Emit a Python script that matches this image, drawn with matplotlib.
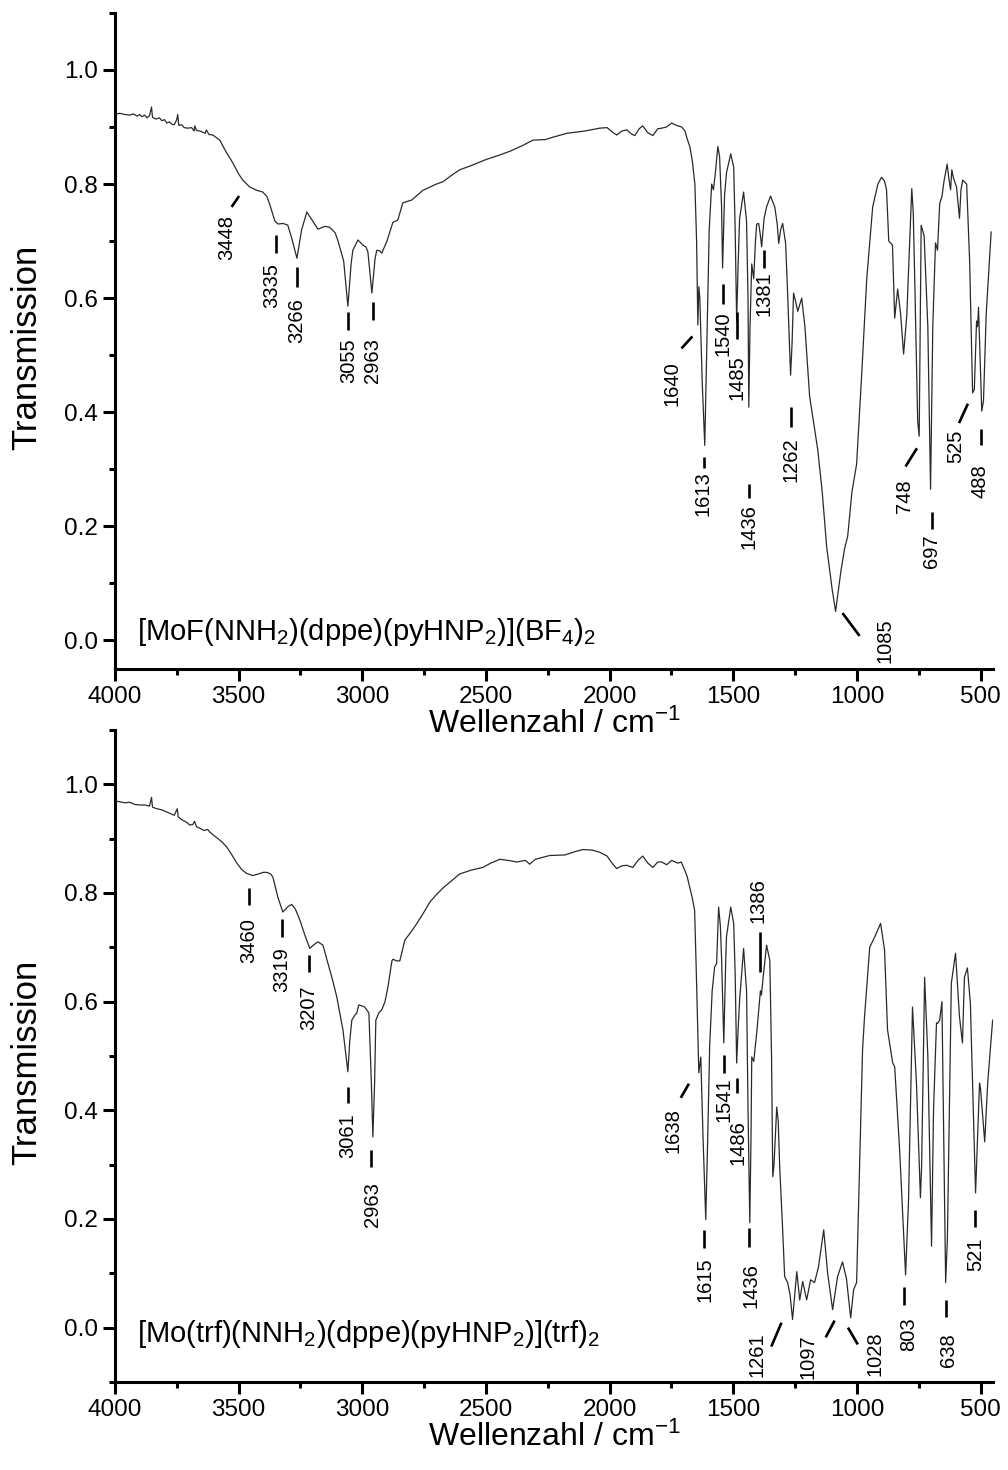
import matplotlib
matplotlib.use("Agg")
import matplotlib.pyplot as plt
from matplotlib.ticker import MultipleLocator

plt.rcParams['font.family'] = ['Liberation Sans', 'DejaVu Sans']
plt.rcParams['mathtext.fontset'] = 'custom'
plt.rcParams['mathtext.rm'] = 'Liberation Sans'
plt.rcParams['mathtext.it'] = 'Liberation Sans:italic'
plt.rcParams['mathtext.bf'] = 'Liberation Sans:bold'

# === Data: top spectrum [MoF(NNH2)(dppe)(pyHNP2)](BF4)2 ===
wn_top = [3998, 3980, 3960, 3940, 3925, 3910, 3900, 3890, 3880, 3870, 3860, 3852, 3848,
          3835, 3820, 3810, 3800, 3790, 3780, 3770, 3760, 3750, 3746, 3742, 3730, 3720,
          3705, 3690, 3680, 3677, 3670, 3656, 3645, 3635, 3630, 3620, 3604, 3576, 3550,
          3523, 3500, 3483, 3455, 3426, 3402, 3385, 3373, 3353, 3340, 3320, 3301, 3285,
          3264, 3245, 3224, 3200, 3179, 3150, 3131, 3110, 3099, 3075, 3058, 3045, 3038,
          3025, 3018, 3008, 2998, 2985, 2977, 2961, 2948, 2941, 2930, 2921, 2900, 2876,
          2856, 2836, 2800, 2755, 2700, 2674, 2640, 2606, 2550, 2500, 2444, 2400, 2350,
          2310, 2260, 2230, 2173, 2100, 2040, 2010, 1985, 1971, 1950, 1930, 1912, 1898,
          1880, 1866, 1845, 1825, 1805, 1789, 1770, 1749, 1730, 1708, 1695, 1688, 1675,
          1665, 1655, 1648, 1643, 1639, 1635, 1625, 1615, 1607, 1597, 1587, 1580, 1572,
          1562, 1555, 1547, 1543, 1535, 1527, 1510, 1498, 1492, 1486, 1480, 1474, 1458,
          1446, 1440, 1437, 1432, 1425, 1417, 1410, 1405, 1397, 1390, 1385, 1375, 1365,
          1349, 1332, 1322, 1316, 1308, 1300, 1288, 1280, 1268, 1262, 1256, 1248, 1239,
          1223, 1210, 1191, 1158, 1140, 1122, 1100, 1086, 1065, 1050, 1037, 1020, 1001,
          980, 960, 936, 915, 900, 888, 880, 871, 856, 847, 835, 823, 811, 798, 778, 772,
          766, 754, 748, 744, 740, 728, 713, 702, 693, 682, 674, 665, 656, 648, 635, 628,
          621, 616, 609, 597, 585, 579, 572, 556, 544, 532, 525, 516, 512, 508, 495, 488,
          477, 457]
tr_top = [0.923, 0.924, 0.922, 0.921, 0.923, 0.919, 0.922, 0.918, 0.921, 0.916, 0.920, 0.935,
          0.917, 0.914, 0.916, 0.911, 0.913, 0.907, 0.909, 0.905, 0.904, 0.913, 0.922, 0.903,
          0.904, 0.899, 0.898, 0.899, 0.893, 0.902, 0.894, 0.893, 0.891, 0.889, 0.895, 0.887,
          0.886, 0.877, 0.856, 0.837, 0.818, 0.807, 0.795, 0.789, 0.786, 0.778, 0.763, 0.735,
          0.730, 0.731, 0.728, 0.705, 0.670, 0.720, 0.751, 0.735, 0.721, 0.726, 0.724, 0.715,
          0.702, 0.665, 0.586, 0.660, 0.684, 0.695, 0.702, 0.698, 0.693, 0.690, 0.681, 0.609,
          0.670, 0.684, 0.683, 0.679, 0.700, 0.733, 0.737, 0.767, 0.772, 0.789, 0.800, 0.804,
          0.815, 0.825, 0.834, 0.843, 0.851, 0.858, 0.868, 0.877, 0.878, 0.882, 0.889, 0.893,
          0.898, 0.899, 0.890, 0.886, 0.893, 0.895, 0.888, 0.885, 0.897, 0.902, 0.890, 0.885,
          0.897, 0.898, 0.900, 0.907, 0.903, 0.900, 0.893, 0.882, 0.865, 0.840, 0.800, 0.700,
          0.553, 0.620, 0.600, 0.450, 0.342, 0.510, 0.720, 0.800, 0.790, 0.820, 0.866, 0.848,
          0.760, 0.653, 0.780, 0.820, 0.853, 0.830, 0.720, 0.560, 0.660, 0.740, 0.786, 0.735,
          0.600, 0.409, 0.550, 0.660, 0.634, 0.700, 0.730, 0.731, 0.710, 0.690, 0.740, 0.760,
          0.779, 0.760, 0.730, 0.696, 0.720, 0.731, 0.696, 0.609, 0.465, 0.520, 0.609, 0.595,
          0.577, 0.600, 0.550, 0.428, 0.334, 0.260, 0.164, 0.090, 0.051, 0.120, 0.160, 0.183,
          0.260, 0.309, 0.470, 0.634, 0.760, 0.800, 0.812, 0.805, 0.790, 0.700, 0.693, 0.565,
          0.616, 0.572, 0.502, 0.570, 0.792, 0.750, 0.634, 0.384, 0.358, 0.550, 0.728, 0.709,
          0.550, 0.265, 0.550, 0.697, 0.684, 0.766, 0.778, 0.804, 0.835, 0.810, 0.790, 0.825,
          0.810, 0.795, 0.740, 0.790, 0.807, 0.800, 0.665, 0.434, 0.440, 0.560, 0.550, 0.584,
          0.402, 0.420, 0.572, 0.716]

# === Data: bottom spectrum [Mo(trf)(NNH2)(dppe)(pyHNP2)](trf)2 ===
wn_bot = [3998, 3980, 3960, 3940, 3920, 3900, 3880, 3860, 3852, 3848, 3830, 3810, 3790,
          3775, 3760, 3748, 3744, 3730, 3710, 3697, 3685, 3678, 3670, 3656, 3640, 3625,
          3616, 3600, 3583, 3565, 3547, 3527, 3507, 3487, 3467, 3442, 3420, 3400, 3386,
          3370, 3361, 3341, 3321, 3300, 3285, 3270, 3252, 3230, 3212, 3195, 3179, 3159,
          3139, 3120, 3103, 3078, 3058, 3050, 3042, 3030, 3022, 3014, 3000, 2990, 2973,
          2963, 2957, 2950, 2945, 2932, 2921, 2908, 2896, 2880, 2876, 2860, 2848, 2828,
          2800, 2779, 2750, 2727, 2700, 2674, 2640, 2606, 2560, 2513, 2480, 2444, 2410,
          2375, 2340, 2323, 2300, 2242, 2181, 2140, 2108, 2070, 2040, 2010, 1990, 1971,
          1950, 1930, 1906, 1885, 1866, 1845, 1825, 1805, 1789, 1769, 1749, 1724, 1710,
          1696, 1686, 1676, 1665, 1656, 1648, 1639, 1631, 1622, 1611, 1603, 1595, 1585,
          1575, 1567, 1559, 1552, 1547, 1538, 1530, 1527, 1510, 1498, 1492, 1486, 1480,
          1474, 1458, 1446, 1440, 1433, 1428, 1425, 1417, 1405, 1390, 1386, 1380, 1365,
          1352, 1345, 1340, 1335, 1324, 1318, 1312, 1300, 1292, 1280, 1270, 1260, 1243,
          1231, 1219, 1203, 1187, 1171, 1155, 1134, 1118, 1098, 1078, 1058, 1042, 1025,
          1013, 1001, 989, 977, 969, 948, 928, 904, 888, 876, 855, 847, 827, 803, 791, 775,
          759, 743, 738, 726, 713, 698, 690, 678, 673, 665, 656, 641, 634, 618, 601, 585,
          573, 565, 553, 541, 520, 504, 500, 483, 471, 451]
tr_bot = [0.969, 0.968, 0.966, 0.967, 0.963, 0.962, 0.962, 0.960, 0.976, 0.958, 0.955, 0.953,
          0.949, 0.946, 0.943, 0.955, 0.940, 0.935, 0.930, 0.925, 0.926, 0.932, 0.922, 0.919,
          0.915, 0.917, 0.912, 0.906, 0.900, 0.893, 0.884, 0.870, 0.855, 0.843, 0.836, 0.832,
          0.835, 0.838, 0.838, 0.835, 0.829, 0.792, 0.765, 0.775, 0.779, 0.770, 0.750, 0.720,
          0.698, 0.705, 0.710, 0.704, 0.671, 0.640, 0.609, 0.548, 0.471, 0.530, 0.566, 0.575,
          0.579, 0.594, 0.592, 0.590, 0.579, 0.450, 0.351, 0.450, 0.566, 0.580, 0.585, 0.600,
          0.627, 0.675, 0.678, 0.675, 0.675, 0.713, 0.730, 0.744, 0.765, 0.783, 0.797, 0.809,
          0.822, 0.835, 0.842, 0.847, 0.855, 0.862, 0.860, 0.857, 0.860, 0.853, 0.862, 0.869,
          0.870, 0.876, 0.880, 0.879, 0.875, 0.868, 0.855, 0.845, 0.850, 0.851, 0.847, 0.860,
          0.868, 0.855, 0.847, 0.857, 0.857, 0.852, 0.860, 0.855, 0.857, 0.842, 0.830, 0.811,
          0.790, 0.768, 0.634, 0.469, 0.498, 0.350, 0.199, 0.350, 0.520, 0.620, 0.664, 0.670,
          0.774, 0.740, 0.680, 0.524, 0.680, 0.720, 0.774, 0.744, 0.650, 0.487, 0.550, 0.603,
          0.698, 0.620, 0.400, 0.193, 0.350, 0.498, 0.490, 0.542, 0.620, 0.612, 0.640, 0.704,
          0.676, 0.500, 0.278, 0.300, 0.406, 0.380, 0.296, 0.180, 0.094, 0.083, 0.060, 0.015,
          0.103, 0.051, 0.085, 0.051, 0.088, 0.083, 0.112, 0.180, 0.100, 0.033, 0.094, 0.121,
          0.090, 0.018, 0.070, 0.083, 0.296, 0.511, 0.572, 0.700, 0.719, 0.744, 0.695, 0.548,
          0.487, 0.480, 0.327, 0.097, 0.235, 0.590, 0.450, 0.239, 0.300, 0.645, 0.500, 0.150,
          0.400, 0.561, 0.560, 0.566, 0.600, 0.083, 0.162, 0.634, 0.689, 0.572, 0.524, 0.645,
          0.662, 0.597, 0.248, 0.450, 0.440, 0.342, 0.450, 0.566]

# === Peak labels: text, text centre (wn), text top (T), marker segment ===
top_labels = ['3448', '3335', '3266', '3055', '2963', '1640', '1613', '1540', '1485',
              '1436', '1381', '1262', '1085', '748', '697', '525', '488']
top_text_x = [3547, 3366, 3265, 3054, 2957, 1749, 1621, 1541, 1486, 1437, 1377, 1268,
              886, 807, 698, 601, 504]
top_text_y = [0.746, 0.661, 0.600, 0.530, 0.530, 0.489, 0.296, 0.577, 0.500, 0.239, 0.647,
              0.356, 0.039, 0.282, 0.186, 0.370, 0.309]
top_marks = [(3528, 0.760, 3498, 0.779), (3349, 0.711, 3349, 0.679), (3264, 0.655, 3264, 0.620),
             (3056, 0.575, 3056, 0.544), (2957, 0.593, 2957, 0.561), (1709, 0.512, 1665, 0.533),
             (1619, 0.321, 1619, 0.302), (1540, 0.625, 1540, 0.590), (1486, 0.575, 1486, 0.528),
             (1437, 0.274, 1437, 0.249), (1377, 0.684, 1377, 0.653), (1268, 0.409, 1268, 0.374),
             (1058, 0.048, 989, 0.008), (803, 0.305, 757, 0.337), (698, 0.226, 698, 0.195),
             (587, 0.381, 551, 0.415), (497, 0.370, 497, 0.342)]

bot_labels = ['3460', '3319', '3207', '3061', '2963', '1638', '1541', '1486', '1386',
              '1615', '1436', '1261', '1097', '1028', '803', '638', '521']
bot_text_x = [3458, 3325, 3216, 3058, 2957, 1745, 1538, 1482, 1401, 1615, 1429, 1405,
              1199, 928, 791, 629, 520]
bot_text_y = [0.754, 0.700, 0.630, 0.395, 0.268, 0.404, 0.461, 0.382, 0.745, 0.130, 0.119,
              -0.009, -0.013, -0.007, 0.018, -0.010, 0.165]
bot_marks = [(3458, 0.809, 3458, 0.778), (3325, 0.752, 3325, 0.719), (3216, 0.686, 3216, 0.654),
             (3058, 0.443, 3058, 0.413), (2963, 0.327, 2963, 0.296), (1712, 0.423, 1679, 0.449),
             (1538, 0.502, 1538, 0.469), (1486, 0.460, 1486, 0.432), (1391, 0.728, 1391, 0.654),
             (1619, 0.180, 1619, 0.147), (1437, 0.184, 1437, 0.149), (1346, -0.035, 1305, 0.009),
             (1126, -0.018, 1090, 0.013), (1036, 0.000, 996, -0.031), (808, 0.074, 808, 0.042),
             (638, 0.051, 638, 0.020), (521, 0.217, 521, 0.186)]

top_name = r'[MoF(NNH$_2$)(dppe)(pyHNP$_2$)](BF$_4$)$_2$'
bot_name = r'[Mo(trf)(NNH$_2$)(dppe)(pyHNP$_2$)](trf)$_2$'


def draw_panel(ax, wn, tr, labels, tx, ty, marks, name, name_y, ylim, text_va):
    ax.plot(wn, tr, color='#2a2a2a', lw=0.9)
    for i, lab in enumerate(labels):
        ax.text(tx[i], ty[i], lab, rotation=90, ha='center', va=text_va[i], fontsize=14.5)
        x1, y1, x2, y2 = marks[i]
        ax.plot([x1, x2], [y1, y2], color='black', lw=1.9, solid_capstyle='butt')
    ax.text(3910, name_y, name, fontsize=21, ha='left', va='center')

    ax.set_xlim(4000, 450)
    ax.set_ylim(*ylim)
    ax.xaxis.set_major_locator(MultipleLocator(500))
    ax.xaxis.set_minor_locator(MultipleLocator(250))
    ax.yaxis.set_major_locator(MultipleLocator(0.2))
    ax.yaxis.set_minor_locator(MultipleLocator(0.1))
    ax.yaxis.set_major_formatter(matplotlib.ticker.FormatStrFormatter('%.1f'))
    ax.spines['top'].set_visible(False)
    ax.spines['right'].set_visible(False)
    ax.spines['left'].set_linewidth(2.2)
    ax.spines['bottom'].set_linewidth(2.2)
    ax.tick_params(which='major', direction='out', length=8.5, width=2.2, labelsize=17.5, pad=4)
    ax.tick_params(which='minor', direction='out', length=4.5, width=2.2)
    ax.set_xlabel('Wellenzahl / cm$^{-1}$', fontsize=23, labelpad=0)
    ax.set_ylabel('Transmission', fontsize=25)
    ax.yaxis.set_label_coords(-0.082, 0.49)
    ax.patch.set_alpha(0)


fig = plt.figure(figsize=(10.08, 14.7), dpi=100)
ax1 = fig.add_axes([0.114, 0.5449, 0.871, 0.4463])
ax2 = fig.add_axes([0.114, 0.0599, 0.871, 0.4435])

draw_panel(ax1, wn_top, tr_top, top_labels, top_text_x, top_text_y, top_marks, top_name,
           0.015, (-0.05, 1.1), ['top'] * len(top_labels))
bot_va = ['top'] * len(bot_labels)
bot_va[bot_labels.index('1386')] = 'bottom'
draw_panel(ax2, wn_bot, tr_bot, bot_labels, bot_text_x, bot_text_y, bot_marks, bot_name,
           -0.011, (-0.1, 1.1), bot_va)

fig.savefig('out.png', dpi=100)
